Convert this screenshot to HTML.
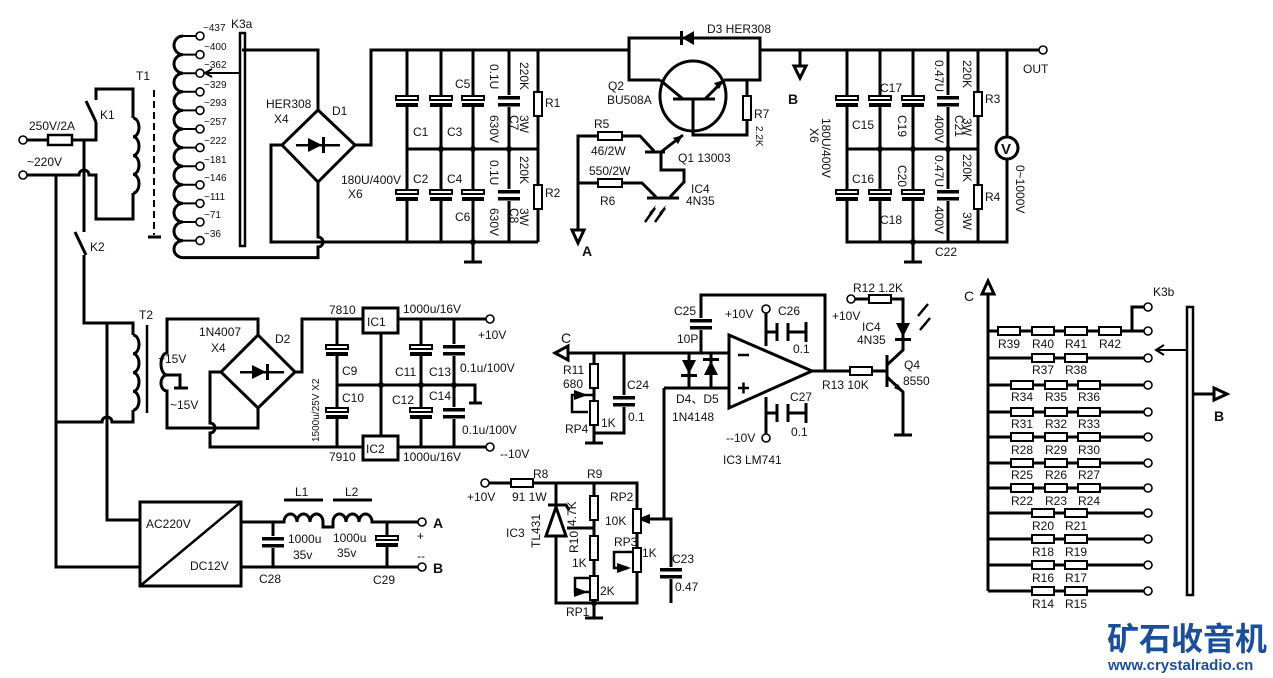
<!DOCTYPE html>
<html><head><meta charset="utf-8"><style>
html,body{margin:0;padding:0;background:#fff}
svg{display:block}
text{font-family:"Liberation Sans",sans-serif;font-size:12px;fill:#111}
.s{font-size:10px}
</style></head><body>
<svg width="1273" height="678" viewBox="0 0 1273 678" xmlns="http://www.w3.org/2000/svg">
<defs>
<g id="ec"><rect x="-13" y="-6" width="26" height="12" fill="#fff"/><rect x="-11" y="-5" width="22" height="4" fill="#fff" stroke="#000" stroke-width="2"/><rect x="-11" y="2" width="22" height="4" fill="#000"/></g>
<g id="nc"><rect x="-13" y="-6" width="26" height="12" fill="#fff"/><rect x="-11" y="-5" width="22" height="3.5" fill="#000"/><rect x="-11" y="2" width="22" height="3.5" fill="#000"/></g>
<g id="rv"><rect x="-4" y="-12" width="8" height="24" fill="#fff" stroke="#000" stroke-width="2"/></g>
<g id="rh"><rect x="-11" y="-4" width="22" height="8" fill="#fff" stroke="#000" stroke-width="2"/></g>
</defs>
<g fill="none" stroke="#000" stroke-width="3">
<path d="M27,140 H96 V122"/><path d="M96,122 L86,101"/><path d="M96,100 V89 H133 V118"/>
<path d="M133,118 a6,9.4 0 0 1 0,18.8 a6,9.4 0 0 1 0,18.8 a6,9.4 0 0 1 0,18.8 a6,9.4 0 0 1 0,18.8"/>
<path d="M133,193 V219 H96 V175 H89 a5,5 0 0 0 -10,0 H27"/>
<path d="M84,140 V232"/><path d="M75,232 L86,255"/><path d="M84,255 V323 H133 V335"/>
<path d="M107,323 V520 H140"/>
<path d="M56,175 V567 H140"/>
<path d="M56,422 H102 a5,5 0 0 1 10,0 H133 V410"/>
<path d="M133,335 a6,9.4 0 0 1 0,18.8 a6,9.4 0 0 1 0,18.8 a6,9.4 0 0 1 0,18.8 a6,9.4 0 0 1 0,18.8"/>
<path d="M183,36 a9,9.3 0 0 0 0,18.6 a9,9.3 0 0 0 0,18.6 a9,9.3 0 0 0 0,18.6 a9,9.3 0 0 0 0,18.6 a9,9.3 0 0 0 0,18.6 a9,9.3 0 0 0 0,18.6 a9,9.3 0 0 0 0,18.6 a9,9.3 0 0 0 0,18.6 a9,9.3 0 0 0 0,18.6 a9,9.3 0 0 0 0,18.6 a9,9.3 0 0 0 0,18.6 a9,8.5 0 0 0 0,17 H318 V247 a5,5 0 0 0 0,-10 V182"/>
<path d="M183,36 H196 M183,54.6 H196 M183,73.2 H196 M183,91.8 H196 M183,110.4 H196 M183,129 H196 M183,147.6 H196 M183,166.2 H196 M183,184.8 H196 M183,203.4 H196 M183,222 H196 M183,240.6 H196" stroke-width="2"/>
<path d="M154,90 V235" stroke-width="2" stroke-dasharray="7,4"/><path d="M148,237 H161"/>
<rect x="240" y="33" width="5" height="213" stroke-width="2.5"/>
<path d="M242,50 H318 V110"/><path d="M240,73 H206" stroke-width="2"/><path d="M212,69 L205,73 L212,77" stroke-width="2"/>
<polygon points="318,110 355,145 318,182 282,145"/>
<path d="M355,145 H371 V50 H629"/><path d="M282,145 H271 V242 H538"/>
<path d="M407,50 V242 M441,50 V242 M473,50 V262 M509,50 V242 M538,50 V242 M407,149 H538"/>
<path d="M464,262 H482"/>
</g>
<g fill="#000"><polygon points="308,138 308,152 322,145"/><rect x="322" y="137" width="3" height="16"/><rect x="296" y="144" width="44" height="2.5"/></g>
<g fill="#fff" stroke="#000" stroke-width="1.6"><circle cx="23" cy="140" r="4"/><circle cx="23" cy="175" r="4"/>
<circle cx="200" cy="36" r="4"/><circle cx="200" cy="54.6" r="4"/><circle cx="200" cy="73.2" r="4"/><circle cx="200" cy="91.8" r="4"/><circle cx="200" cy="110.4" r="4"/><circle cx="200" cy="129" r="4"/><circle cx="200" cy="147.6" r="4"/><circle cx="200" cy="166.2" r="4"/><circle cx="200" cy="184.8" r="4"/><circle cx="200" cy="203.4" r="4"/><circle cx="200" cy="222" r="4"/><circle cx="200" cy="240.6" r="4"/></g>
<rect x="48" y="135" width="24" height="10" fill="#fff" stroke="#000" stroke-width="2.5"/>
<use href="#ec" x="407" y="101"/><use href="#ec" x="441" y="101"/><use href="#ec" x="473" y="101"/><use href="#nc" x="509" y="101"/>
<use href="#ec" x="407" y="195"/><use href="#ec" x="441" y="195"/><use href="#ec" x="473" y="195"/><use href="#nc" x="509" y="195"/>
<use href="#rv" x="538" y="104"/><use href="#rv" x="538" y="197"/>
<g fill="#000"><circle cx="441" cy="149" r="3"/><circle cx="473" cy="149" r="3"/><circle cx="509" cy="149" r="3"/><circle cx="473" cy="242" r="3"/></g>

<g fill="none" stroke="#000" stroke-width="3">
<path d="M629,50 V38 H760 V80 H724"/><path d="M629,38 V80 H660"/>
<path d="M760,50 H1040"/>
<ellipse cx="693" cy="96" rx="33" ry="35"/>
<path d="M660,80 L683,99 M705,99 L724,80 M673,99 H715 M693,99 V135 H747 V80"/>
<path d="M578,230 V136 H598 M622,136 H640 L654,151 M645,152 H665 M661,152 L683,135 M661,152 V170 H684 V182 L670,197 M647,198 H679"/>
<path d="M578,183 H598 M622,183 H642 L656,197"/>
<polygon points="572,230 584,230 578,243" fill="#fff"/>
<path d="M800,50 V66"/><polygon points="794,66 806,66 800,78" fill="#fff"/>
<path d="M847,50 V242 H1007 V50 M880,50 V242 M913,50 V262 M948,50 V242 M978,50 V242 M847,149 H978"/>
<path d="M904,262 H922"/>
<path d="M645,222 L655,208 M655,222 L665,208" stroke-width="2.5"/>
</g>
<g fill="#000"><polygon points="682,38 694,31 694,45"/><rect x="680" y="31" width="3" height="14"/>
<polygon points="724,80 714,83 719,89"/><polygon points="683,135 673,138 678,144"/><polygon points="656,205 649,213 652,215"/><polygon points="666,205 659,213 662,215"/>
<circle cx="880" cy="149" r="3"/><circle cx="913" cy="149" r="3"/><circle cx="948" cy="149" r="3"/><circle cx="913" cy="242" r="3"/></g>
<rect x="598" y="132" width="24" height="8" fill="#fff" stroke="#000" stroke-width="2"/>
<rect x="598" y="179" width="24" height="8" fill="#fff" stroke="#000" stroke-width="2"/>
<use href="#rv" x="747" y="108"/>
<use href="#ec" x="847" y="101"/><use href="#ec" x="880" y="101"/><use href="#ec" x="913" y="101"/><use href="#nc" x="948" y="101"/>
<use href="#ec" x="847" y="195"/><use href="#ec" x="880" y="195"/><use href="#ec" x="913" y="195"/><use href="#nc" x="948" y="195"/>
<use href="#rv" x="978" y="104"/><use href="#rv" x="978" y="197"/>
<circle cx="1007" cy="148" r="11" fill="#fff" stroke="#000" stroke-width="3"/>
<text x="1001" y="154" style="font-weight:bold;font-size:15px">V</text>
<circle cx="1043" cy="50" r="4" fill="#fff" stroke="#000" stroke-width="1.6"/>

<g fill="none" stroke="#000" stroke-width="3">
<path d="M147,325 V413" stroke-width="2.5"/>
<path d="M258,335 V319 H167 V353 a6,11 0 0 0 0,22 a6,8 0 0 0 0,16 V428 H258 V408"/>
<path d="M167,375 H180 V387 M174,388 H188"/>
<polygon points="258,335 295,372 258,408 221,372"/>
<path d="M221,372 H210 V423 a5,5 0 0 1 0,10 V447 H490"/>
<path d="M295,372 H302 V319 H490"/>
<rect x="363" y="308" width="35" height="25" fill="#fff"/><rect x="363" y="436" width="35" height="24" fill="#fff"/>
<path d="M381,333 V436 M337,319 V447 M421,319 V447 M454,319 V447 M337,385 H475 V403 M469,403 H482"/>
</g>
<g fill="#000"><polygon points="252,365 252,379 266,372"/><rect x="266" y="364" width="3" height="16"/><rect x="240" y="371" width="44" height="2.5"/>
<circle cx="381" cy="385" r="3"/><circle cx="421" cy="385" r="3"/><circle cx="454" cy="385" r="3"/></g>
<use href="#ec" x="337" y="350"/><use href="#ec" x="337" y="413"/><use href="#ec" x="421" y="350"/><use href="#ec" x="421" y="413"/><use href="#nc" x="454" y="350"/><use href="#nc" x="454" y="413"/>
<circle cx="490" cy="319" r="4" fill="#fff" stroke="#000" stroke-width="1.6"/><circle cx="490" cy="447" r="4" fill="#fff" stroke="#000" stroke-width="1.6"/>

<g fill="none" stroke="#000" stroke-width="3">
<rect x="140" y="502" width="101" height="84"/><path d="M140,586 L241,502" stroke-width="2.5"/>
<path d="M241,522 H284 a6.5,8 0 0 1 13,0 a6.5,8 0 0 1 13,0 a6.5,8 0 0 1 13,0 V527 H333 V522 a6.5,8 0 0 1 13,0 a6.5,8 0 0 1 13,0 a6.5,8 0 0 1 13,0 H418"/>
<path d="M284,500 H323 M333,500 H372"/>
<path d="M241,567 H418 M273,522 V567 M387,522 V567"/>
</g>
<use href="#nc" x="273" y="542"/><use href="#ec" x="387" y="541"/>
<circle cx="422" cy="522" r="4" fill="#fff" stroke="#000" stroke-width="1.6"/><circle cx="422" cy="567" r="4" fill="#fff" stroke="#000" stroke-width="1.6"/>

<g fill="none" stroke="#000" stroke-width="3">
<path d="M566,353 H729"/><polygon points="555,353 568,346 568,360" fill="#fff"/>
<path d="M594,353 V443 M585,443 H603 M624,353 V433 H594"/>
<path d="M594,395 H572 V412 H588" stroke-width="2.5"/>
<path d="M701,353 V295 H825 V371"/>
<path d="M689,353 V388 M711,353 V388 M664,388 H729 M664,388 V519 H650 M664,519 H671 V603"/>
<polygon points="729,335 812,371 729,408" fill="#fff"/>
<path d="M766,313 V346 M766,325 V332 H777 M788,332 H806 M806,322 V342 M777,323 V341 M788,323 V341"/>
<path d="M766,397 V434 M766,413 H777 M788,413 H806 M806,403 V423 M777,404 V422 M788,404 V422"/>
<path d="M812,371 H887 M887,355 V387 M887,365 L903,350 V299 H855 M887,377 L903,392 V435 M894,435 H912"/>
<path d="M485,483 H637 V603 H556 V483 M594,483 V618 M585,618 H603"/>
<path d="M567,528 H594"/>
<path d="M594,578 H575 V592 H589" stroke-width="2.5"/>
<path d="M637,552 H614 V568 H628" stroke-width="2.5"/>
<path d="M546,536 H566 L556,507 Z M548,505 H566 L569,510" fill="#fff"/>
</g>
<g fill="#000">
<polygon points="682,360 696,360 689,374"/><rect x="681" y="374" width="16" height="3"/>
<polygon points="704,375 718,375 711,361"/><rect x="703" y="358" width="16" height="3"/>
<polygon points="903,323 896,337 910,337" transform="rotate(180 903 330)"/><rect x="895" y="338" width="16" height="3"/>
<polygon points="903,392 894,388 898,384"/>
<polygon points="574,390 588,395 574,400"/><polygon points="574,587 588,592 574,597"/><polygon points="617,563 631,568 617,573"/><polygon points="650,514 637,519 650,524"/>
<circle cx="594" cy="603" r="3"/>
</g>
<path d="M918,316 L928,304 M920,330 L930,318" stroke="#000" stroke-width="2.5"/>
<path d="M738,355 H749" stroke="#000" stroke-width="2.5"/>
<path d="M738,388 H749 M743.5,382.5 V393.5" stroke="#000" stroke-width="2.5"/>
<use href="#nc" x="701" y="324"/><use href="#nc" x="624" y="401"/><use href="#nc" x="671" y="573"/>
<use href="#rv" x="594" y="376"/><use href="#rv" x="594" y="413"/><use href="#rv" x="594" y="508"/><use href="#rv" x="594" y="548"/><use href="#rv" x="594" y="588"/>
<use href="#rv" x="637" y="521"/><use href="#rv" x="637" y="560"/>
<use href="#rh" x="522" y="483"/><use href="#rh" x="861" y="371"/><use href="#rh" x="880" y="299"/>
<g fill="#fff" stroke="#000" stroke-width="1.6"><circle cx="485" cy="483" r="4"/><circle cx="766" cy="309" r="4"/><circle cx="766" cy="438" r="4"/><circle cx="851" cy="299" r="4"/></g>

<g fill="none" stroke="#000" stroke-width="3">
<path d="M988,292 V591"/><polygon points="988,281 982,294 994,294" fill="#fff"/>
<path d="M988,331 H1144 M988,358 H1144 M988,385 H1144 M988,412 H1144 M988,437 H1144 M988,463 H1144 M988,488 H1144 M988,513 H1144 M988,539 H1144 M988,565 H1144 M988,591 H1144"/>
<path d="M1132,331 V307 H1144"/>
<rect x="1187" y="307" width="6" height="288" stroke-width="2.5"/>
<path d="M1187,350 H1158" stroke-width="2"/><path d="M1164,345 L1156,350 L1164,355" stroke-width="2"/>
<path d="M1193,394 H1215"/><polygon points="1227,394 1214,388 1214,400" fill="#fff"/>
</g>
<g fill="#fff" stroke="#000" stroke-width="1.6">
<circle cx="1148" cy="307" r="4"/><circle cx="1148" cy="331" r="4"/><circle cx="1148" cy="358" r="4"/><circle cx="1148" cy="385" r="4"/><circle cx="1148" cy="412" r="4"/><circle cx="1148" cy="437" r="4"/><circle cx="1148" cy="463" r="4"/><circle cx="1148" cy="488" r="4"/><circle cx="1148" cy="513" r="4"/><circle cx="1148" cy="539" r="4"/><circle cx="1148" cy="565" r="4"/><circle cx="1148" cy="591" r="4"/></g>
<use href="#rh" x="1009" y="331"/><use href="#rh" x="1043" y="331"/><use href="#rh" x="1076" y="331"/><use href="#rh" x="1110" y="331"/>
<use href="#rh" x="1043" y="358"/><use href="#rh" x="1076" y="358"/>
<use href="#rh" x="1022" y="385"/><use href="#rh" x="1056" y="385"/><use href="#rh" x="1089" y="385"/>
<use href="#rh" x="1022" y="412"/><use href="#rh" x="1056" y="412"/><use href="#rh" x="1089" y="412"/>
<use href="#rh" x="1022" y="437"/><use href="#rh" x="1056" y="437"/><use href="#rh" x="1089" y="437"/>
<use href="#rh" x="1022" y="463"/><use href="#rh" x="1056" y="463"/><use href="#rh" x="1089" y="463"/>
<use href="#rh" x="1022" y="488"/><use href="#rh" x="1056" y="488"/><use href="#rh" x="1089" y="488"/>
<use href="#rh" x="1043" y="513"/><use href="#rh" x="1076" y="513"/>
<use href="#rh" x="1043" y="539"/><use href="#rh" x="1076" y="539"/>
<use href="#rh" x="1043" y="565"/><use href="#rh" x="1076" y="565"/>
<use href="#rh" x="1043" y="591"/><use href="#rh" x="1076" y="591"/>

<text x="29" y="130">250V/2A</text><text x="27" y="166">~220V</text>
<text x="100" y="119">K1</text><text x="90" y="251">K2</text><text x="136" y="80">T1</text>
<g class="s"><text x="203" y="31" class="s">~437</text><text x="204" y="50" class="s">~400</text><text x="204" y="68" class="s">~362</text><text x="204" y="88" class="s">~329</text><text x="204" y="106" class="s">~293</text><text x="204" y="125" class="s">~257</text><text x="204" y="144" class="s">~222</text><text x="204" y="163" class="s">~181</text><text x="204" y="181" class="s">~146</text><text x="204" y="200" class="s">~111</text><text x="204" y="218" class="s">~71</text><text x="204" y="237" class="s">~36</text></g>
<text x="231" y="28">K3a</text>
<text x="266" y="108">HER308</text><text x="274" y="123">X4</text><text x="332" y="115">D1</text>
<text x="341" y="184">180U/400V</text><text x="348" y="198">X6</text>
<text x="413" y="136">C1</text><text x="447" y="136">C3</text><text x="455" y="88">C5</text>
<text x="413" y="183">C2</text><text x="447" y="183">C4</text><text x="455" y="221">C6</text>
<text x="545" y="107">R1</text><text x="545" y="197">R2</text>
<g class="s"><text transform="translate(490,64) rotate(90)">0.1U</text><text transform="translate(490,115) rotate(90)">630V</text><text transform="translate(510,115) rotate(90)">C7</text><text transform="translate(520,62) rotate(90)">220K</text><text transform="translate(520,115) rotate(90)">3W</text>
<text transform="translate(490,160) rotate(90)">0.1U</text><text transform="translate(490,208) rotate(90)">630V</text><text transform="translate(510,208) rotate(90)">C8</text><text transform="translate(520,156) rotate(90)">220K</text><text transform="translate(520,208) rotate(90)">3W</text></g>
<text x="707" y="33">D3 HER308</text><text x="608" y="90">Q2</text><text x="607" y="104">BU508A</text>
<text x="594" y="128">R5</text><text x="591" y="155">46/2W</text><text x="589" y="175">550/2W</text><text x="600" y="205">R6</text>
<text x="678" y="162">Q1  13003</text><text x="691" y="193">IC4</text><text x="686" y="205">4N35</text>
<text x="754" y="118">R7</text><text class="s" transform="translate(756,126) rotate(90)">2.2K</text>
<text x="582" y="256" style="font-weight:bold;font-size:14px">A</text><text x="788" y="104" style="font-weight:bold;font-size:14px">B</text>
<text x="852" y="129">C15</text><text x="880" y="92">C17</text><text x="852" y="183">C16</text><text x="880" y="224">C18</text>
<text x="985" y="103">R3</text><text x="985" y="201">R4</text><text x="935" y="256">C22</text>
<g class="s"><text transform="translate(822,118) rotate(90)">180U/400V</text><text transform="translate(810,128) rotate(90)">X6</text>
<text transform="translate(898,115) rotate(90)">C19</text><text transform="translate(898,165) rotate(90)">C20</text>
<text transform="translate(935,60) rotate(90)">0.47U</text><text transform="translate(935,115) rotate(90)">400V</text><text transform="translate(955,115) rotate(90)">C21</text>
<text transform="translate(935,155) rotate(90)">0.47U</text><text transform="translate(935,206) rotate(90)">400V</text>
<text transform="translate(963,60) rotate(90)">220K</text><text transform="translate(963,118) rotate(90)">3W</text>
<text transform="translate(963,154) rotate(90)">220K</text><text transform="translate(963,212) rotate(90)">3W</text>
<text transform="translate(1016,165) rotate(90)">0~1000V</text></g>
<text x="1023" y="73">OUT</text>
<text x="139" y="319">T2</text><text x="158" y="363">~15V</text><text x="170" y="409">~15V</text>
<text x="199" y="336">1N4007</text><text x="211" y="352">X4</text><text x="275" y="343">D2</text>
<text x="329" y="314">7810</text><text x="367" y="326">IC1</text><text x="403" y="313">1000u/16V</text><text x="478" y="339">+10V</text>
<text class="s" transform="translate(319,442) rotate(-90)">1500u/25V  X2</text>
<text x="342" y="375">C9</text><text x="342" y="402">C10</text><text x="395" y="376">C11</text><text x="429" y="376">C13</text><text x="460" y="372">0.1u/100V</text>
<text x="392" y="404">C12</text><text x="429" y="400">C14</text><text x="462" y="434">0.1u/100V</text>
<text x="329" y="461">7910</text><text x="366" y="453">IC2</text><text x="403" y="461">1000u/16V</text><text x="500" y="458">--10V</text>
<text x="146" y="528">AC220V</text><text x="190" y="570">DC12V</text>
<text x="295" y="496">L1</text><text x="345" y="496">L2</text>
<text x="288" y="543">1000u</text><text x="293" y="559">35v</text><text x="333" y="542">1000u</text><text x="337" y="557">35v</text>
<text x="259" y="583">C28</text><text x="373" y="584">C29</text>
<text x="433" y="528" style="font-weight:bold;font-size:14px">A</text><text x="433" y="573" style="font-weight:bold;font-size:14px">B</text>
<text x="417" y="540">+</text><text x="417" y="560">--</text>
<text x="561" y="343" style="font-size:14px">C</text>
<text x="563" y="374">R11</text><text x="563" y="388">680</text><text x="627" y="389">C24</text><text x="628" y="421">0.1</text><text x="565" y="433">RP4</text><text x="601" y="427">1K</text>
<text x="674" y="315">C25</text><text x="677" y="343">10P</text><text x="676" y="403">D4、D5</text><text x="672" y="421">1N4148</text>
<text x="725" y="318">+10V</text><text x="778" y="315">C26</text><text x="793" y="353">0.1</text>
<text x="790" y="401">C27</text><text x="791" y="436">0.1</text><text x="726" y="442">--10V</text><text x="723" y="464">IC3 LM741</text>
<text x="853" y="292">R12  1.2K</text><text x="832" y="320">+10V</text><text x="862" y="331">IC4</text><text x="857" y="344">4N35</text>
<text x="904" y="369">Q4</text><text x="903" y="385">8550</text><text x="822" y="389">R13  10K</text>
<text x="533" y="478">R8</text><text x="587" y="478">R9</text><text x="467" y="501">+10V</text><text x="512" y="501">91 1W</text>
<text x="610" y="501">RP2</text><text x="605" y="525">10K</text><text x="506" y="537">IC3</text><text x="614" y="546">RP3</text><text x="642" y="557">1K</text>
<text x="672" y="563">C23</text><text x="675" y="591">0.47</text><text x="600" y="595">2K</text><text x="566" y="616">RP1</text><text x="572" y="567">1K</text>
<g class="s"><text transform="translate(576,526) rotate(-90)">4.7K</text><text transform="translate(578,553) rotate(-90)">R10</text><text fill="#223" transform="translate(540,548) rotate(-90)">TL431</text></g>
<text x="964" y="301" style="font-size:14px">C</text><text x="1153" y="296">K3b</text>
<text x="1214" y="421" style="font-weight:bold;font-size:14px">B</text>
<g style="font-size:11px" text-anchor="middle">
<text x="1009" y="348">R39</text><text x="1043" y="348">R40</text><text x="1076" y="348">R41</text><text x="1110" y="348">R42</text>
<text x="1043" y="374">R37</text><text x="1076" y="374">R38</text>
<text x="1022" y="401">R34</text><text x="1056" y="401">R35</text><text x="1089" y="401">R36</text>
<text x="1022" y="428">R31</text><text x="1056" y="428">R32</text><text x="1089" y="428">R33</text>
<text x="1022" y="454">R28</text><text x="1056" y="454">R29</text><text x="1089" y="454">R30</text>
<text x="1022" y="479">R25</text><text x="1056" y="479">R26</text><text x="1089" y="479">R27</text>
<text x="1022" y="505">R22</text><text x="1056" y="505">R23</text><text x="1089" y="505">R24</text>
<text x="1043" y="530">R20</text><text x="1076" y="530">R21</text>
<text x="1043" y="556">R18</text><text x="1076" y="556">R19</text>
<text x="1043" y="582">R16</text><text x="1076" y="582">R17</text>
<text x="1043" y="608">R14</text><text x="1076" y="608">R15</text></g>
<text x="1107" y="650" style="font-family:'Liberation Sans','Noto Sans CJK SC',sans-serif;font-size:32px;font-weight:bold;fill:#1b4f9a">矿石收音机</text>
<text x="1108" y="670" style="font-size:15px;font-weight:bold;fill:#1b4f9a">www.crystalradio.cn</text>
</svg>
</body></html>
